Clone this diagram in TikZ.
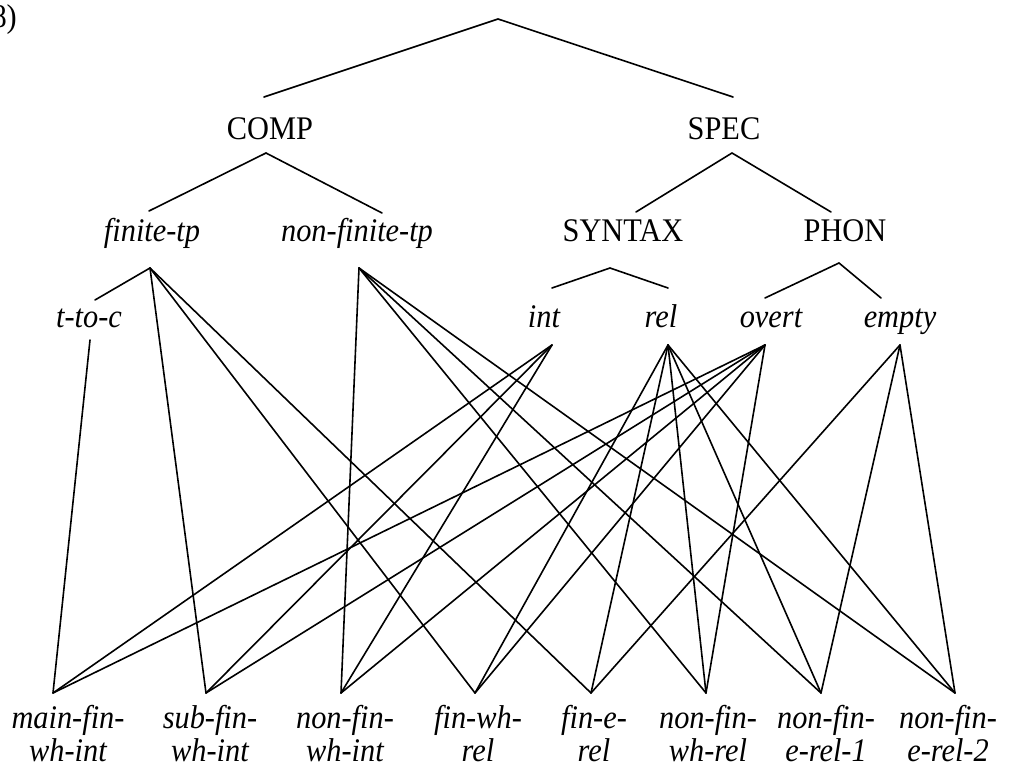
\documentclass[tikz,border=0pt]{standalone}
\usepackage{fontspec}
\setmainfont[FakeStretch=0.92]{Liberation Serif}
\begin{document}
\begin{tikzpicture}[x=1pt,y=-1pt,
  lab/.style={inner sep=0pt, anchor=base, font=\fontsize{33}{33}\selectfont},
  ilab/.style={lab, font=\fontsize{33}{33}\selectfont\itshape},
  leaf/.style={ilab},
  edge/.style={line width=1.6pt, line cap=round}]
\useasboundingbox (0,0) rectangle (1010,767);

% example number (cut at the left edge)
\node[lab, anchor=base east] (num) at (17,28) {(8)};

% labels
\node[lab] (comp) at (270,140) {COMP};
\node[lab] (spec) at (724,140) {SPEC};
\node[ilab] (fin) at (152,242) {finite-tp};
\node[ilab] (nfin) at (357,242) {non-finite-tp};
\node[lab] (syn) at (623,242) {SYNTAX};
\node[lab] (phon) at (845,242) {PHON};
\node[ilab] (ttc) at (89,328) {t-to-c};
\node[ilab] (int) at (544,328) {int};
\node[ilab] (rel) at (661,328) {rel};
\node[ilab] (overt) at (771,328) {overt};
\node[ilab] (empty) at (900,328) {empty};

\newcommand\leaflabel[4]{\node[leaf] (#1) at (#2,728) {\begin{tabular}[t]{@{}c@{}}#3\\#4\end{tabular}};}
\leaflabel{l1}{68}{main-fin-}{wh-int}
\leaflabel{l2}{210}{sub-fin-}{wh-int}
\leaflabel{l3}{345}{non-fin-}{wh-int}
\leaflabel{l4}{478}{fin-wh-}{rel}
\leaflabel{l5}{594}{fin-e-}{rel}
\leaflabel{l6}{708}{non-fin-}{wh-rel}
\leaflabel{l7}{826}{non-fin-}{e-rel-1}
\leaflabel{l8}{948}{non-fin-}{e-rel-2}

% connector end points
\coordinate (root) at (498,19);
\coordinate (compT) at (264,97);
\coordinate (specT) at (733,97);
\coordinate (compB) at (266,153);
\coordinate (specB) at (732,153);
\coordinate (finT) at (149,211);
\coordinate (nfinT) at (382,213);
\coordinate (synT) at (636,212);
\coordinate (phonT) at (831,212);
\coordinate (synB) at (610,268);
\coordinate (phonB) at (839,263);
\coordinate (intT) at (552,288);
\coordinate (relT) at (668,288);
\coordinate (overtT) at (765,298);
\coordinate (emptyT) at (881,298);
\coordinate (finB) at (150,268);
\coordinate (nfinB) at (359,268);
\coordinate (ttcT) at (95,300);
\coordinate (ttcB) at (90,340);
\coordinate (intB) at (552,345);
\coordinate (relB) at (668,345);
\coordinate (overtB) at (765,345);
\coordinate (emptyB) at (900,345);
\coordinate (v1) at (53,693);
\coordinate (v2) at (206,693);
\coordinate (v3) at (341,693);
\coordinate (v4) at (475,693);
\coordinate (v5) at (591,693);
\coordinate (v6) at (706,693);
\coordinate (v7) at (821,693);
\coordinate (v8) at (955,693);

% tree part
\draw[edge] (compT) -- (root) -- (specT);
\draw[edge] (finT) -- (compB) -- (nfinT);
\draw[edge] (synT) -- (specB) -- (phonT);
\draw[edge] (intT) -- (synB) -- (relT);
\draw[edge] (overtT) -- (phonB) -- (emptyT);
\draw[edge] (finB) -- (ttcT);

% multiple inheritance
\foreach \t in {v2,v4,v5} \draw[edge] (finB) -- (\t);
\foreach \t in {v3,v6,v7,v8} \draw[edge] (nfinB) -- (\t);
\draw[edge] (ttcB) -- (v1);
\foreach \t in {v1,v2,v3} \draw[edge] (intB) -- (\t);
\foreach \t in {v4,v5,v6,v7,v8} \draw[edge] (relB) -- (\t);
\foreach \t in {v1,v2,v3,v4,v6} \draw[edge] (overtB) -- (\t);
\foreach \t in {v5,v7,v8} \draw[edge] (emptyB) -- (\t);
\end{tikzpicture}
\end{document}
